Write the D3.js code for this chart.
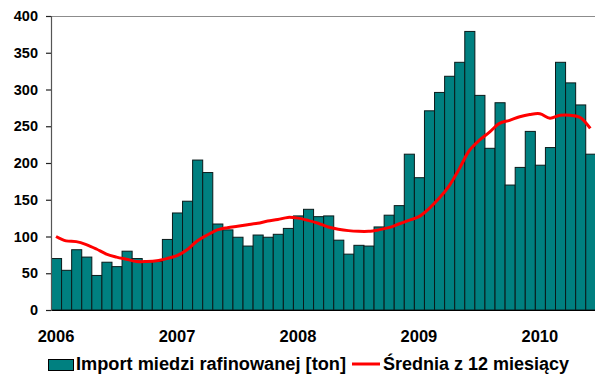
<!DOCTYPE html>
<html>
<head>
<meta charset="utf-8">
<script src="https://cdn.jsdelivr.net/npm/d3@7/dist/d3.min.js"></script>
<style>
  html, body { margin: 0; padding: 0; background: #fff; }
  svg { display: block; font-family: "Liberation Sans", Arial, sans-serif; font-weight: bold; }
</style>
</head>
<body>
<svg id="chart" width="595" height="374"></svg>
<script>
// ---- Data (monthly, Jan 2006 – Jun 2010) ----
const years = ["2006", "2007", "2008", "2009", "2010"];
const yTicks = [0, 50, 100, 150, 200, 250, 300, 350, 400];
const importTon = [
  70, 54, 82, 72, 47, 65, 59, 80, 70, 66, 66, 96,
  132, 148, 204, 187, 117, 109, 99, 87, 102, 99, 103, 111,
  128, 137, 127, 128, 95, 76, 88, 87, 113, 129, 142, 212,
  180, 271, 296, 318, 337, 379, 292, 220, 282, 170, 194, 243,
  197, 221, 337, 309, 279, 212
];
const avg12 = [
  100, 94, 93, 89, 83, 76, 72, 69, 66, 66, 67, 70,
  74, 82, 94, 102, 109, 112, 114, 116, 118, 121, 123, 126,
  125, 122, 118, 113, 110, 108, 107, 107, 109, 112, 117, 122,
  127, 138, 152, 169, 192, 217, 231, 242, 254, 258, 263, 266,
  267, 261, 265, 265, 262, 247
];
const legendLabels = ["Import miedzi rafinowanej [ton]", "Średnia z 12 miesiący"];

// ---- Layout ----
const mLeft = 51, mTop = 16, mBottom = 310, step = 10.08;
const svg = d3.select("#chart");

const x = d3.scaleBand()
  .domain(d3.range(importTon.length))
  .range([mLeft, mLeft + step * importTon.length])
  .padding(0);
const y = d3.scaleLinear().domain([0, 400]).range([mBottom, mTop]);

// top border of plot area
svg.append("line")
  .attr("x1", mLeft).attr("x2", 595)
  .attr("y1", mTop + 0.5).attr("y2", mTop + 0.5)
  .attr("stroke", "#8c8c8c").attr("stroke-width", 1);

// bars
svg.append("g").selectAll("rect")
  .data(importTon)
  .join("rect")
  .attr("x", (d, i) => x(i) + 0.5)
  .attr("y", d => y(d))
  .attr("width", x.bandwidth())
  .attr("height", d => y(0) - y(d))
  .attr("fill", "#008080")
  .attr("stroke", "#0a1a1a")
  .attr("stroke-width", 1);

// x axis
const xAxis = svg.append("g")
  .attr("transform", `translate(0,${mBottom})`)
  .call(d3.axisBottom(x)
    .tickValues([0, 12, 24, 36, 48])
    .tickFormat((d, i) => years[i])
    .tickSize(0));
xAxis.select(".domain").attr("stroke", "#000").attr("stroke-width", 1.2)
  .attr("d", `M${mLeft},0.5H595`);
xAxis.selectAll("text")
  .attr("y", 32).attr("dy", 0)
  .attr("fill", "#000")
  .style("font-size", "16.5px").style("font-family", "'Liberation Sans', Arial, sans-serif").style("font-weight", "bold");

// y axis
const yAxis = svg.append("g")
  .attr("transform", `translate(${mLeft},0)`)
  .call(d3.axisLeft(y).tickValues(yTicks).tickSize(5).tickPadding(8).tickFormat(d3.format("d")));
yAxis.select(".domain").attr("stroke", "#555").attr("stroke-width", 1.2);
yAxis.selectAll(".tick line").attr("stroke", "#222").attr("stroke-width", 1.2);
yAxis.selectAll("text")
  .attr("fill", "#000")
  .style("font-size", "14.5px").style("font-family", "'Liberation Sans', Arial, sans-serif").style("font-weight", "bold");

// moving-average line
const line = d3.line()
  .x((d, i) => x(i) + x.bandwidth() / 2)
  .y(d => y(d))
  .curve(d3.curveCatmullRom.alpha(0.5));
svg.append("path")
  .datum(avg12)
  .attr("d", line)
  .attr("fill", "none")
  .attr("stroke", "#ff0000")
  .attr("stroke-width", 3)
  .attr("stroke-linejoin", "round");

// legend
const lg = svg.append("g").style("font-size", "17.5px");
lg.append("rect")
  .attr("x", 48.5).attr("y", 359.5).attr("width", 25).attr("height", 11)
  .attr("fill", "#008080").attr("stroke", "#000").attr("stroke-width", 1);
lg.append("text").attr("x", 76).attr("y", 370).attr("fill", "#000")
  .attr("textLength", 270).attr("lengthAdjust", "spacingAndGlyphs")
  .text(legendLabels[0]);
lg.append("line")
  .attr("x1", 352).attr("x2", 380).attr("y1", 364).attr("y2", 364)
  .attr("stroke", "#ff0000").attr("stroke-width", 3);
lg.append("text").attr("x", 383).attr("y", 370).attr("fill", "#000")
  .attr("textLength", 186).attr("lengthAdjust", "spacingAndGlyphs")
  .text(legendLabels[1]);
</script>
</body>
</html>
